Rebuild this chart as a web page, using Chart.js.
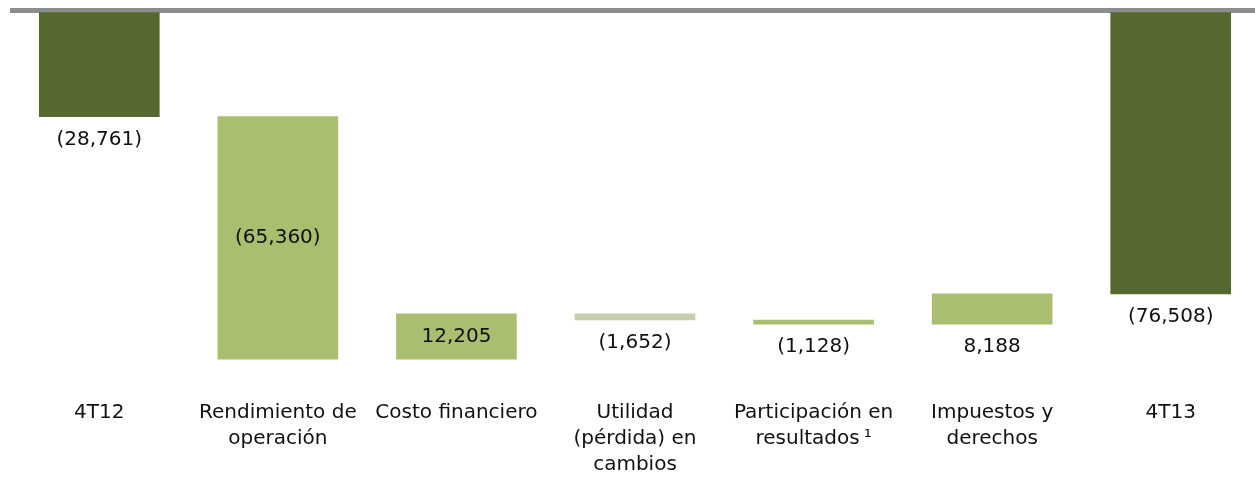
<!DOCTYPE html>
<html>
<head>
<meta charset="utf-8">
<script src="https://cdn.jsdelivr.net/npm/chart.js@4"></script>
<style>
  body { margin: 0; background: #fff; overflow: hidden; }
  #wrap { width: 1260px; height: 481px; position: relative; }
</style>
</head>
<body>
<div id="wrap"><canvas id="bridge"></canvas></div>
<script>
// Waterfall data (millones de pesos)
const categories = [
  ["4T12"],
  ["Rendimiento de", "operación"],
  ["Costo financiero"],
  ["Utilidad", "(pérdida) en", "cambios"],
  ["Participación en", "resultados\u2009¹"],
  ["Impuestos y", "derechos"],
  ["4T13"],
];
const changes = [-28761, -65360, 12205, -1652, -1128, 8188, -76508];
const isTotal = [true, false, false, false, false, false, true];
const barColors = ["#556830", "#a9be6e", "#a9be6e", "#c4cfae", "#a9be6e", "#a9be6e", "#556830"];
const labelPlacement = ["below", "center", "center", "below", "below", "below", "below"];

// floating ranges from running total
let running = 0;
const ranges = changes.map((v, i) => {
  if (isTotal[i]) {
    running = v;
    return [0, v];
  }
  const r = [running, running + v];
  running += v;
  return r;
});

const fmt = (v) => {
  const s = Math.abs(v).toLocaleString("en-US");
  return v < 0 ? `(${s})` : s;
};

const FONT = "DejaVu Sans";

// value labels
const valueLabels = {
  id: "valueLabels",
  afterDatasetsDraw(chart) {
    const { ctx } = chart;
    const meta = chart.getDatasetMeta(0);
    ctx.save();
    ctx.font = `20px "${FONT}"`;
    ctx.fillStyle = "#111";
    ctx.textAlign = "center";
    ctx.textBaseline = "middle";
    meta.data.forEach((bar, i) => {
      const top = Math.min(bar.y, bar.base);
      const bottom = Math.max(bar.y, bar.base);
      const ty = labelPlacement[i] === "center" ? (top + bottom) / 2 : bottom + 23;
      ctx.fillText(fmt(changes[i]), bar.x, ty);
    });
    ctx.restore();
  },
};

new Chart(document.getElementById("bridge"), {
  type: "bar",
  data: {
    labels: categories,
    datasets: [
      {
        data: ranges,
        backgroundColor: barColors,
        borderWidth: 0,
        barThickness: 120,
        borderSkipped: false,
      },
    ],
  },
  options: {
    responsive: true,
    maintainAspectRatio: false,
    animation: false,
    layout: { padding: { left: 10, right: 0, top: 10, bottom: 3 } },
    plugins: { legend: { display: false }, tooltip: { enabled: false } },
    scales: {
      x: {
        grid: { display: false },
        border: { display: false },
        afterFit: (scale) => { scale.height = 97; },
        ticks: {
          autoSkip: false,
          maxRotation: 0,
          minRotation: 0,
          padding: 11,
          color: "#111",
          font: { family: FONT, size: 20, lineHeight: 1.3 },
        },
      },
      y: {
        min: -100000,
        max: 0,
        z: 1,
        border: { display: false },
        ticks: { display: false },
        grid: {
          drawTicks: false,
          lineWidth: 5,
          color: (c) => (c.tick && c.tick.value === 0 ? "#8c8c8c" : "rgba(0,0,0,0)"),
        },
      },
    },
  },
  plugins: [valueLabels],
});
</script>
</body>
</html>
